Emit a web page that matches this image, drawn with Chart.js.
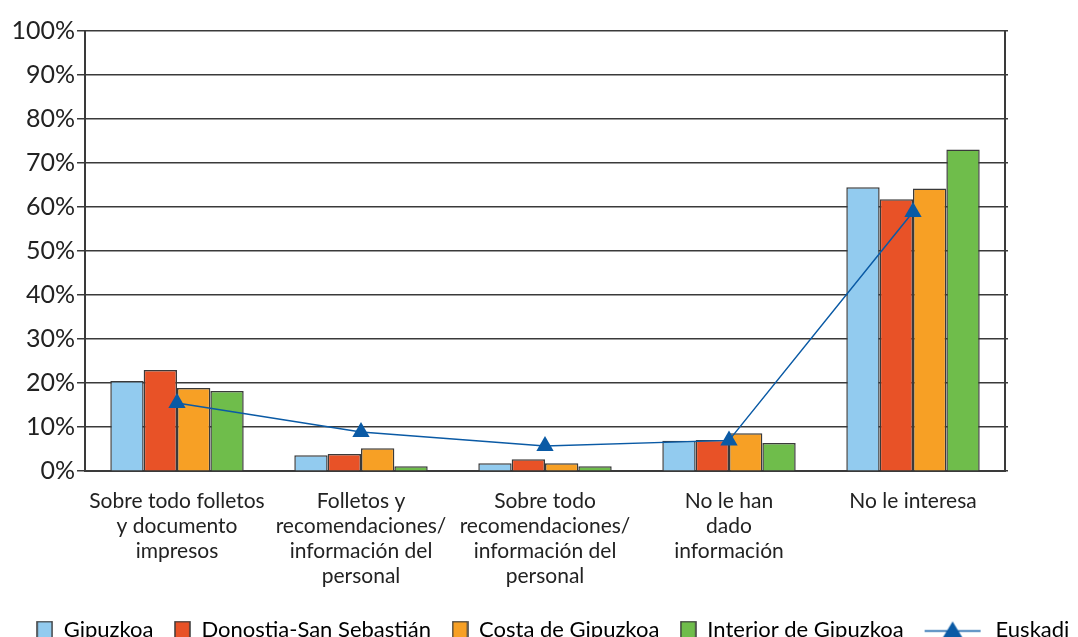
<!DOCTYPE html>
<html>
<head>
<meta charset="utf-8">
<script src="https://cdn.jsdelivr.net/npm/chart.js@4"></script>
<style>
  html, body { margin: 0; padding: 0; background: #fff; }
  #wrap { width: 1078px; height: 637px; }
</style>
</head>
<body>
<div id="wrap"><canvas id="c" width="1078" height="637"></canvas></div>
<script>
// Categories (multi-line labels)
const categories = [
  ["Sobre todo folletos", "y documento", "impresos"],
  ["Folletos y", "recomendaciones/", "información del", "personal"],
  ["Sobre todo", "recomendaciones/", "información del", "personal"],
  ["No le han", "dado", "información"],
  ["No le interesa"]
];

// Series values (%)
const gipuzkoa = [20.5, 3.6, 1.8, 6.9, 64.5];
const donostia = [23.0, 3.9, 2.7, 7.1, 61.8];
const costa    = [18.9, 5.2, 1.8, 8.6, 64.2];
const interior = [18.2, 1.1, 1.1, 6.4, 73.1];
const euskadi  = [15.5, 8.9, 5.7, 7.0, 58.9];

// Y axis ticks
const yTicks = [0, 10, 20, 30, 40, 50, 60, 70, 80, 90, 100];

const seriesNames = ["Gipuzkoa", "Donostia-San Sebastián", "Costa de Gipuzkoa", "Interior de Gipuzkoa", "Euskadi"];
const barColors = ["#92cbef", "#e85227", "#f7a025", "#6fbd4b"];
const lineColor = "#0a5aa5";
const edge = "#3a3a3a";
const FONT = "Lato, 'Open Sans', sans-serif";
const LEGEND_SIZE = 22;
const LEGEND_BOX = 16;

// Legend symbols
function boxIcon(color) {
  const cv = document.createElement('canvas');
  cv.width = 17; cv.height = 19;
  const g = cv.getContext('2d');
  g.fillStyle = color;
  g.fillRect(1, 1, 15, 17);
  g.strokeStyle = edge; g.lineWidth = 1.5;
  g.strokeRect(1, 1, 15, 17);
  return cv;
}
// Line-with-triangle symbol; the canvas is centred on the legend box,
// so the drawing is shifted right to sit before the (space-padded) text.
function lineIcon() {
  const cv = document.createElement('canvas');
  cv.width = 120; cv.height = 21;
  const g = cv.getContext('2d');
  const c = 60 - LEGEND_BOX / 2; // left edge of the legend box
  g.strokeStyle = lineColor; g.lineWidth = 1.5;
  g.beginPath(); g.moveTo(c, 11.5); g.lineTo(c + 56, 11.5); g.stroke();
  g.fillStyle = lineColor;
  const tx = c + 28;
  g.beginPath(); g.moveTo(tx, 2); g.lineTo(tx + 11, 20); g.lineTo(tx - 11, 20); g.closePath(); g.fill();
  return cv;
}

const barSet = (i, data) => ({
  type: 'bar',
  label: seriesNames[i],
  data: data,
  backgroundColor: barColors[i],
  borderColor: edge,
  borderWidth: 1.5,
  categoryPercentage: 0.725,
  barPercentage: 1.0,
  order: 2
});

// Nudge the legend row to the right
const legendShift = {
  id: 'legendShift',
  afterLayout(chart) {
    const lg = chart.legend;
    if (lg) { lg.left += 14; lg.right += 14; }
  }
};

new Chart(document.getElementById('c'), {
  data: {
    labels: categories,
    datasets: [
      barSet(0, gipuzkoa),
      barSet(1, donostia),
      barSet(2, costa),
      barSet(3, interior),
      {
        type: 'line',
        label: seriesNames[4],
        data: euskadi,
        borderColor: lineColor,
        backgroundColor: lineColor,
        borderWidth: 1.5,
        pointStyle: 'triangle',
        pointRadius: 10,
        pointBorderWidth: 0,
        tension: 0,
        order: 1
      }
    ]
  },
  plugins: [legendShift],
  options: {
    responsive: false,
    animation: false,
    devicePixelRatio: 1,
    layout: { padding: { left: 0, right: 0, top: 31, bottom: -14 } },
    plugins: {
      tooltip: { enabled: false },
      legend: {
        position: 'bottom',
        labels: {
          font: { family: FONT, size: LEGEND_SIZE },
          color: '#222',
          usePointStyle: true,
          pointStyleWidth: LEGEND_BOX,
          padding: 21,
          generateLabels: (chart) => chart.data.datasets.map((ds, i) => ({
            text: i < 4 ? ds.label : '\u2003\u2003\u2002' + ds.label,
            pointStyle: i < 4 ? boxIcon(barColors[i]) : lineIcon(),
            fillStyle: 'transparent',
            strokeStyle: 'transparent',
            lineWidth: 0,
            datasetIndex: i,
            hidden: false
          }))
        }
      }
    },
    scales: {
      x: {
        grid: { display: false },
        border: { color: edge, width: 2 },
        ticks: {
          font: { family: FONT, size: 21 },
          color: '#222',
          maxRotation: 0,
          autoSkip: false,
          padding: 9
        }
      },
      y: {
        min: 0, max: 100,
        afterBuildTicks: (s) => { s.ticks = yTicks.map(v => ({ value: v })); },
        afterFit: (s) => { s.width = 85; },
        grid: { color: edge, lineWidth: 1.5, tickLength: 8 },
        border: { color: edge, width: 2 },
        ticks: {
          font: { family: FONT, size: 25 },
          color: '#222',
          padding: 2,
          callback: (v) => v + '%'
        }
      },
      y2: {
        position: 'right',
        min: 0, max: 100,
        afterBuildTicks: (s) => { s.ticks = yTicks.map(v => ({ value: v })); },
        afterFit: (s) => { s.width = 73; },
        grid: { drawOnChartArea: false, color: edge, lineWidth: 1.5, tickLength: 3 },
        border: { color: edge, width: 2 },
        ticks: { display: false }
      }
    }
  }
});
</script>
</body>
</html>
